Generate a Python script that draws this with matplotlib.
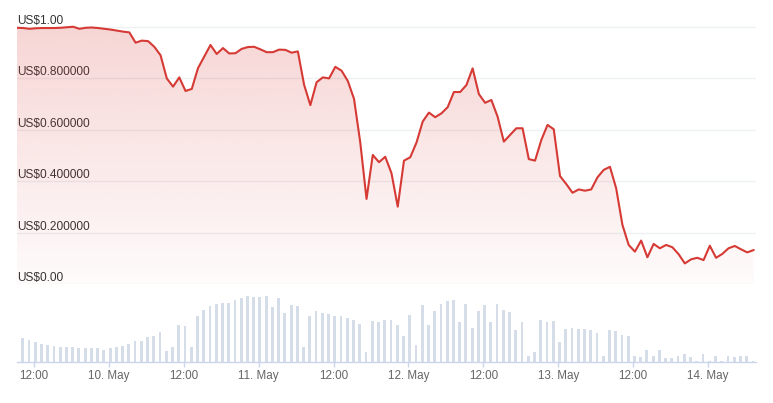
import numpy as np
import pandas as pd
import matplotlib
matplotlib.use("Agg")
import matplotlib.pyplot as plt
import matplotlib.dates as mdates
from matplotlib.ticker import FuncFormatter

plt.rcParams['font.family'] = ['Liberation Sans', 'DejaVu Sans']

# hourly price (USD)
price = [
    0.997, 0.996, 0.993, 0.995, 0.996, 0.996, 0.996, 0.997, 0.999, 1.001,
    0.993, 0.997, 0.998, 0.996, 0.993, 0.990, 0.986, 0.982, 0.979, 0.939,
    0.947, 0.945, 0.923, 0.890, 0.800, 0.768, 0.804, 0.751, 0.759, 0.840,
    0.885, 0.930, 0.895, 0.918, 0.897, 0.898, 0.915, 0.922, 0.923, 0.913,
    0.902, 0.902, 0.912, 0.911, 0.900, 0.905, 0.775, 0.696, 0.785, 0.804,
    0.800, 0.845, 0.830, 0.790, 0.720, 0.550, 0.331, 0.502, 0.474, 0.495,
    0.431, 0.301, 0.480, 0.493, 0.550, 0.632, 0.667, 0.649, 0.664, 0.688,
    0.747, 0.747, 0.774, 0.839, 0.739, 0.705, 0.716, 0.651, 0.554, 0.580,
    0.606, 0.606, 0.486, 0.480, 0.560, 0.619, 0.602, 0.420, 0.389, 0.355,
    0.368, 0.363, 0.368, 0.415, 0.444, 0.456, 0.372, 0.230, 0.152, 0.126,
    0.169, 0.104, 0.156, 0.139, 0.152, 0.143, 0.116, 0.080, 0.096, 0.102,
    0.093, 0.149, 0.102, 0.117, 0.139, 0.148, 0.135, 0.123, 0.132,
]

# hourly volume (relative units)
volume = [
    73, 65, 59, 54, 51, 48, 46, 46, 46, 43,
    43, 43, 43, 37, 43, 46, 49, 54, 62, 62,
    76, 79, 90, 34, 46, 112, 109, 46, 138, 157,
    168, 174, 179, 179, 188, 193, 199, 196, 196, 199,
    165, 193, 149, 171, 168, 46, 140, 154, 149, 146,
    140, 140, 132, 127, 115, 31, 124, 121, 126, 126,
    112, 79, 143, 51, 171, 112, 154, 176, 185, 188,
    121, 176, 104, 154, 171, 121, 174, 157, 151, 96,
    121, 18, 29, 126, 121, 123, 59, 101, 104, 101,
    101, 96, 87, 18, 96, 93, 82, 79, 18, 15,
    37, 18, 37, 12, 12, 18, 23, 15, 2, 23,
    2, 18, 2, 18, 15, 18, 18, 2,
]

price_ticks = [0.0, 0.2, 0.4, 0.6, 0.8, 1.0]
price_labels = ["US$0.00", "US$0.200000", "US$0.400000", "US$0.600000",
                "US$0.800000", "US$1.00"]

t_price = pd.date_range("2024-05-09 09:17", periods=len(price), freq="h")
t_vol = pd.date_range("2024-05-09 10:12", periods=len(volume), freq="h")

line_color = "#d63a35"
bar_color = "#d5dde8"
grid_color = "#eef0f4"
axis_color = "#ccd6eb"

fig = plt.figure(figsize=(7.73, 4.03), dpi=100)
ax = fig.add_axes([17 / 773, 1 - 284 / 403, 739 / 773, 264 / 403])
axv = fig.add_axes([17 / 773, 1 - 362 / 403, 739 / 773, 72 / 403], sharex=ax)

x0 = t_price[0]
x1 = t_price[0] + pd.Timedelta(hours=118.4)
ymax = 264 / 257

# price line with gradient fill
ax.plot(t_price, price, color=line_color, lw=1.5, zorder=3)
poly = ax.fill_between(t_price, price, 0, color="none", lw=0)
grad = np.zeros((256, 1, 4))
grad[:, 0, 0] = 214 / 255
grad[:, 0, 1] = 58 / 255
grad[:, 0, 2] = 53 / 255
grad[:, 0, 3] = np.linspace(0.02, 0.21, 256)
img = ax.imshow(grad, extent=[mdates.date2num(x0), mdates.date2num(x1), 0, 1.0],
                aspect="auto", origin="lower", zorder=1)
img.set_clip_path(poly.get_paths()[0], transform=ax.transData)

ax.set_xlim(x0, x1)
ax.set_ylim(0, ymax)
ax.set_yticks(price_ticks)
ax.set_yticklabels(price_labels)
ax.yaxis.grid(True, color=grid_color, lw=1)
ax.set_axisbelow(True)
ax.tick_params(axis="y", length=0, pad=0, labelsize=8.6, labelcolor="#333333")
for lbl in ax.get_yticklabels():
    lbl.set_ha("left")
    lbl.set_va("bottom")
ax.tick_params(axis="x", bottom=False, labelbottom=False)
for s in ax.spines.values():
    s.set_visible(False)
ax.patch.set_alpha(0)

# volume bars
axv.bar(t_vol, volume, width=0.45 / 24, color=bar_color, zorder=2)
axv.set_ylim(0, 199 * 72 / 66)
axv.set_yticks([])
for s in ["top", "left", "right"]:
    axv.spines[s].set_visible(False)
axv.spines["bottom"].set_color(axis_color)
axv.spines["bottom"].set_linewidth(1)
axv.xaxis.set_major_locator(mdates.HourLocator(byhour=[0, 12]))


def fmt(x, pos):
    d = mdates.num2date(x)
    if d.hour == 0:
        return f"{d.day}. {d.strftime('%b')}"
    return d.strftime("%H:%M")


axv.xaxis.set_major_formatter(FuncFormatter(fmt))
axv.tick_params(axis="x", length=3.5, width=1, color=axis_color, pad=2.5,
                labelsize=8.4, labelcolor="#666666")
axv.patch.set_alpha(0)

fig.savefig("out.png", dpi=100)
